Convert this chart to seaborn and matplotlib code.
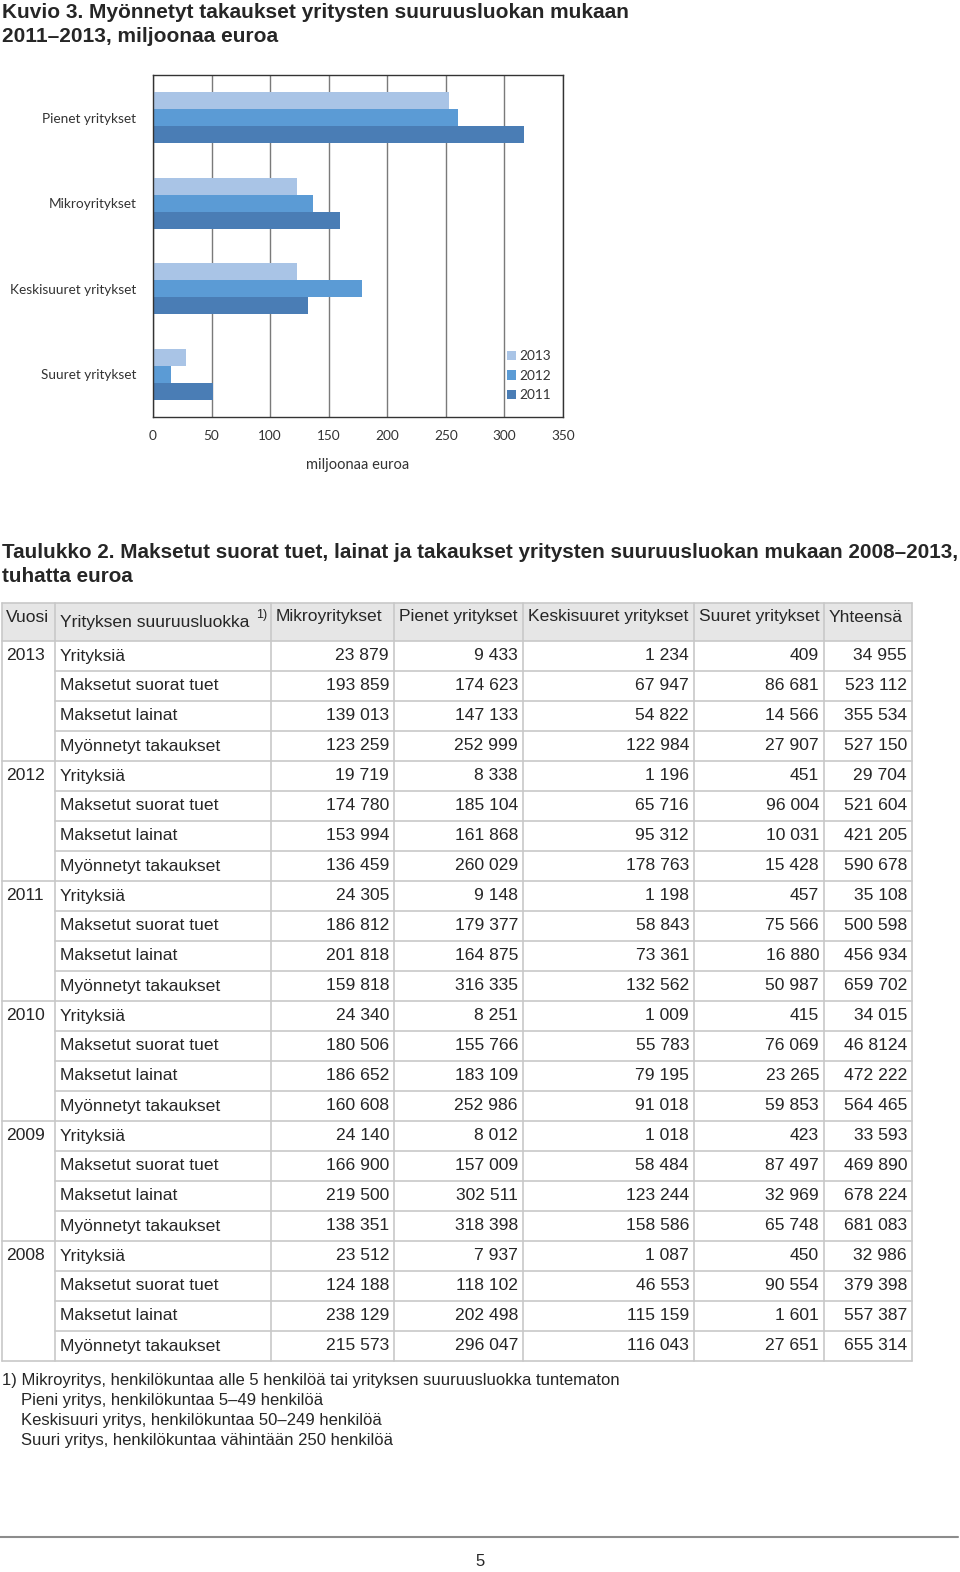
import matplotlib
matplotlib.use("Agg")
import matplotlib.pyplot as plt
import seaborn as sns
import pandas as pd

# Taulukon tiedot, tuhatta euroa
vuodet = ["2013", "2012", "2011", "2010", "2009", "2008"]
rivit = ["Yrityksiä", "Maksetut suorat tuet", "Maksetut lainat", "Myönnetyt takaukset"]
sarakkeet = ["Mikroyritykset", "Pienet yritykset", "Keskisuuret yritykset", "Suuret yritykset", "Yhteensä"]

arvot_2013 = [["23 879", "9 433", "1 234", "409", "34 955"],
              ["193 859", "174 623", "67 947", "86 681", "523 112"],
              ["139 013", "147 133", "54 822", "14 566", "355 534"],
              ["123 259", "252 999", "122 984", "27 907", "527 150"]]
arvot_2012 = [["19 719", "8 338", "1 196", "451", "29 704"],
              ["174 780", "185 104", "65 716", "96 004", "521 604"],
              ["153 994", "161 868", "95 312", "10 031", "421 205"],
              ["136 459", "260 029", "178 763", "15 428", "590 678"]]
arvot_2011 = [["24 305", "9 148", "1 198", "457", "35 108"],
              ["186 812", "179 377", "58 843", "75 566", "500 598"],
              ["201 818", "164 875", "73 361", "16 880", "456 934"],
              ["159 818", "316 335", "132 562", "50 987", "659 702"]]
arvot_2010 = [["24 340", "8 251", "1 009", "415", "34 015"],
              ["180 506", "155 766", "55 783", "76 069", "46 8124"],
              ["186 652", "183 109", "79 195", "23 265", "472 222"],
              ["160 608", "252 986", "91 018", "59 853", "564 465"]]
arvot_2009 = [["24 140", "8 012", "1 018", "423", "33 593"],
              ["166 900", "157 009", "58 484", "87 497", "469 890"],
              ["219 500", "302 511", "123 244", "32 969", "678 224"],
              ["138 351", "318 398", "158 586", "65 748", "681 083"]]
arvot_2008 = [["23 512", "7 937", "1 087", "450", "32 986"],
              ["124 188", "118 102", "46 553", "90 554", "379 398"],
              ["238 129", "202 498", "115 159", "1 601", "557 387"],
              ["215 573", "296 047", "116 043", "27 651", "655 314"]]
taulukko = [arvot_2013, arvot_2012, arvot_2011, arvot_2010, arvot_2009, arvot_2008]

# Kuvion tiedot: myönnetyt takaukset 2011-2013, miljoonaa euroa
kuvio_luokat = ["Pienet yritykset", "Mikroyritykset", "Keskisuuret yritykset", "Suuret yritykset"]
kuvio_sarake = [1, 0, 2, 3]
kuvio_vuodet = ["2013", "2012", "2011"]
varit = ["#a9c4e6", "#5b9bd5", "#4a7db5"]

data = []
for v in kuvio_vuodet:
    t = taulukko[vuodet.index(v)][3]
    for luokka, s in zip(kuvio_luokat, kuvio_sarake):
        data.append({"Luokka": luokka, "Vuosi": v,
                     "Arvo": int(t[s].replace(" ", "")) / 1000})
df = pd.DataFrame(data)

sns.set_theme(style="white")
plt.rcParams["font.family"] = ["Liberation Sans", "DejaVu Sans"]

fig = plt.figure(figsize=(9.6, 15.72), dpi=100)

# --- Kuvio ---
ax = fig.add_axes([153 / 960, 1 - 417 / 1572, 410 / 960, 342 / 1572])
sns.barplot(data=df, y="Luokka", x="Arvo", hue="Vuosi", order=kuvio_luokat,
            hue_order=kuvio_vuodet, palette=varit, width=0.6, saturation=1,
            orient="h", ax=ax, edgecolor="none")
ax.set_xlim(0, 350)
ax.set_xticks(range(0, 351, 50))
ax.set_ylim(3.5, -0.5)
ax.xaxis.grid(True, color="#7a7a7a", lw=1)
ax.set_axisbelow(True)
for sp in ax.spines.values():
    sp.set_visible(True)
    sp.set_color("#333333")
    sp.set_linewidth(1)
ax.tick_params(length=0, labelsize=9.8, colors="#333333", pad=9)
ax.tick_params(axis="y", pad=12)
for lab in ax.get_xticklabels() + ax.get_yticklabels():
    lab.set_fontfamily("Lato")
ax.set_ylabel("")
ax.set_xlabel("miljoonaa euroa", fontsize=10.5, color="#333333", family="Lato", labelpad=12)
ax.legend(title=None, loc="lower right", bbox_to_anchor=(1.0, 0.01), frameon=False,
          handlelength=0.7, handleheight=0.7, handletextpad=0.2, labelspacing=0.55,
          prop={"family": "Lato", "size": 9.8}, labelcolor="#333333")

# --- Tekstit ja taulukko ---
tx = fig.add_axes([0, 0, 1, 1])
tx.set_xlim(0, 960)
tx.set_ylim(1572, 0)
tx.axis("off")

tx.text(2, 12, "Kuvio 3. Myönnetyt takaukset yritysten suuruusluokan mukaan",
        fontsize=15, fontweight="bold", va="center")
tx.text(2, 36, "2011–2013, miljoonaa euroa", fontsize=15, fontweight="bold", va="center")
tx.text(2, 552, "Taulukko 2. Maksetut suorat tuet, lainat ja takaukset yritysten suuruusluokan mukaan 2008–2013,",
        fontsize=14.85, fontweight="bold", va="center")
tx.text(2, 577, "tuhatta euroa", fontsize=14.85, fontweight="bold", va="center")

sarake_rajat = [2, 55, 271, 394, 523, 694, 824, 912]
ylä, otsikko_ala, rivi_h = 603, 641, 30.0
viiva = "#c8c8c8"
fs = 12.6

tx.fill_between([sarake_rajat[0], sarake_rajat[-1]], ylä, otsikko_ala, color="#e6e6e6", lw=0)
tx.text(6, 617, "Vuosi", fontsize=fs, va="center")
tx.text(60, 623, "Yrityksen suuruusluokka", fontsize=fs, va="center")
tx.text(256, 615, "1)", fontsize=9, va="center")
for i, nimi in enumerate(sarakkeet):
    tx.text(sarake_rajat[i + 2] + 5, 617, nimi, fontsize=fs, va="center")

n_rivit = len(vuodet) * len(rivit)
ala = otsikko_ala + n_rivit * rivi_h
for i, v in enumerate(vuodet):
    for j, r in enumerate(rivit):
        k = i * len(rivit) + j
        yc = otsikko_ala + k * rivi_h + rivi_h / 2
        if j == 0:
            tx.text(6, yc, v, fontsize=fs, va="center")
        tx.text(60, yc, r, fontsize=fs, va="center")
        for c, arvo in enumerate(taulukko[i][j]):
            tx.text(sarake_rajat[c + 3] - 5, yc, arvo, fontsize=fs, va="center", ha="right")
        y_ala = otsikko_ala + (k + 1) * rivi_h
        x0 = sarake_rajat[0] if j == len(rivit) - 1 else sarake_rajat[1]
        tx.plot([x0, sarake_rajat[-1]], [y_ala, y_ala], color=viiva, lw=1.2)

for yy in [ylä, otsikko_ala]:
    tx.plot([sarake_rajat[0], sarake_rajat[-1]], [yy, yy], color=viiva, lw=1.2)
for xx in sarake_rajat:
    tx.plot([xx, xx], [ylä, ala], color=viiva, lw=1.2)

alaviitteet = ["1) Mikroyritys, henkilökuntaa alle 5 henkilöä tai yrityksen suuruusluokka tuntematon",
               "Pieni yritys, henkilökuntaa 5–49 henkilöä",
               "Keskisuuri yritys, henkilökuntaa 50–249 henkilöä",
               "Suuri yritys, henkilökuntaa vähintään 250 henkilöä"]
for i, t in enumerate(alaviitteet):
    tx.text(2 if i == 0 else 21, 1380 + i * 20, t, fontsize=12, va="center")

tx.plot([0, 958], [1537, 1537], color="#8c8c8c", lw=1.5)
tx.text(480, 1562, "5", fontsize=12, ha="center", va="center")

fig.savefig("out.png", dpi=100)
